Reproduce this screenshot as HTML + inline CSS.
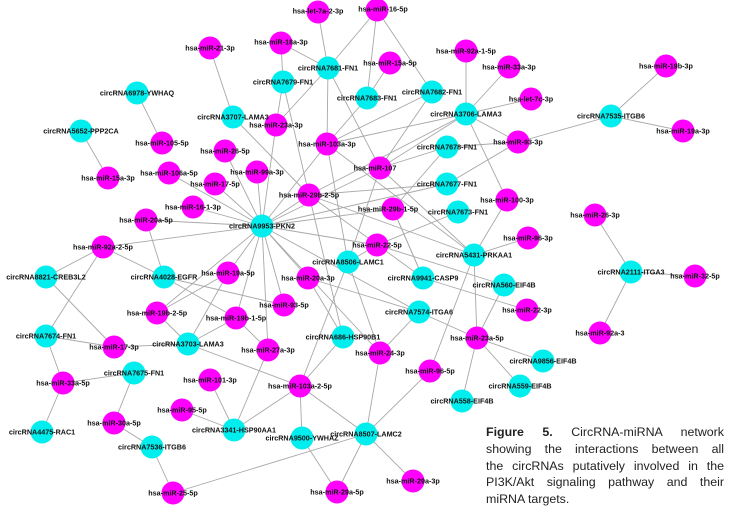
<!DOCTYPE html>
<html><head><meta charset="utf-8"><style>
html,body{margin:0;padding:0;background:#fff;}
svg{display:block;}
text{font-family:"Liberation Sans",Arial,sans-serif;font-size:7.2px;font-weight:bold;fill:#111;text-anchor:middle;dominant-baseline:central;}
.cap{position:absolute;left:486px;top:424px;width:238px;font-family:"Liberation Sans",Arial,sans-serif;font-size:12.4px;line-height:16.8px;color:#222;}
.cap div{text-align:justify;text-align-last:justify;white-space:nowrap;}
.cap div.l{text-align-last:left;}
</style></head><body>
<div style="position:relative;width:753px;height:526px;overflow:hidden">
<svg width="753" height="526" viewBox="0 0 753 526">
<g stroke="#a8a8a8" stroke-width="0.9">
<line x1="262" y1="226" x2="225" y2="151"/><line x1="262" y1="226" x2="257" y2="172"/><line x1="262" y1="226" x2="215" y2="184"/>
<line x1="262" y1="226" x2="169" y2="173"/><line x1="262" y1="226" x2="193" y2="207"/><line x1="262" y1="226" x2="146" y2="220"/>
<line x1="262" y1="226" x2="103" y2="247"/><line x1="262" y1="226" x2="309" y2="195"/><line x1="262" y1="226" x2="276" y2="125"/>
<line x1="262" y1="226" x2="327" y2="144"/><line x1="262" y1="226" x2="393" y2="209"/><line x1="262" y1="226" x2="377" y2="245"/>
<line x1="262" y1="226" x2="228" y2="273"/><line x1="262" y1="226" x2="308" y2="278"/><line x1="262" y1="226" x2="284" y2="305"/>
<line x1="262" y1="226" x2="236" y2="318"/><line x1="262" y1="226" x2="268" y2="350"/><line x1="262" y1="226" x2="157" y2="313"/>
<line x1="262" y1="226" x2="380" y2="168"/><line x1="262" y1="226" x2="380" y2="353"/><line x1="262" y1="226" x2="447" y2="184"/>
<line x1="103" y1="247" x2="46" y2="277"/><line x1="103" y1="247" x2="164" y2="277"/><line x1="103" y1="247" x2="46" y2="336"/>
<line x1="46" y1="277" x2="114" y2="347"/><line x1="146" y1="220" x2="164" y2="277"/>
<line x1="164" y1="277" x2="284" y2="305"/><line x1="164" y1="277" x2="236" y2="318"/>
<line x1="188" y1="344" x2="157" y2="313"/><line x1="188" y1="344" x2="228" y2="273"/><line x1="188" y1="344" x2="236" y2="318"/>
<line x1="188" y1="344" x2="114" y2="347"/><line x1="188" y1="344" x2="300" y2="386"/><line x1="157" y1="313" x2="228" y2="273"/>
<line x1="236" y1="318" x2="268" y2="350"/>
<line x1="46" y1="336" x2="114" y2="347"/><line x1="46" y1="336" x2="63" y2="383"/>
<line x1="63" y1="383" x2="134" y2="373"/><line x1="63" y1="383" x2="42" y2="432"/>
<line x1="134" y1="373" x2="114" y2="423"/><line x1="114" y1="423" x2="152" y2="447"/><line x1="152" y1="447" x2="173" y2="493"/>
<line x1="173" y1="493" x2="366" y2="434"/>
<line x1="210" y1="380" x2="234" y2="430"/><line x1="182" y1="410" x2="234" y2="430"/><line x1="234" y1="430" x2="268" y2="350"/>
<line x1="234" y1="430" x2="300" y2="386"/>
<line x1="300" y1="386" x2="343" y2="337"/><line x1="300" y1="386" x2="302" y2="438"/><line x1="300" y1="386" x2="366" y2="434"/>
<line x1="300" y1="386" x2="348" y2="262"/>
<line x1="302" y1="438" x2="337" y2="492"/><line x1="366" y1="434" x2="337" y2="492"/><line x1="366" y1="434" x2="413" y2="481"/>
<line x1="366" y1="434" x2="430" y2="371"/><line x1="366" y1="434" x2="380" y2="353"/>
<line x1="343" y1="337" x2="309" y2="195"/><line x1="343" y1="337" x2="308" y2="278"/>
<line x1="380" y1="353" x2="419" y2="312"/><line x1="380" y1="353" x2="348" y2="262"/>
<line x1="419" y1="312" x2="477" y2="338"/><line x1="419" y1="312" x2="308" y2="278"/><line x1="419" y1="312" x2="262" y2="226"/>
<line x1="477" y1="338" x2="504" y2="285"/><line x1="477" y1="338" x2="543" y2="361"/><line x1="477" y1="338" x2="520" y2="386"/>
<line x1="477" y1="338" x2="462" y2="401"/><line x1="477" y1="338" x2="474" y2="255"/>
<line x1="474" y1="255" x2="507" y2="200"/><line x1="474" y1="255" x2="528" y2="238"/><line x1="474" y1="255" x2="430" y2="371"/>
<line x1="474" y1="255" x2="380" y2="168"/><line x1="474" y1="255" x2="327" y2="144"/><line x1="474" y1="255" x2="309" y2="195"/>
<line x1="423" y1="278" x2="393" y2="209"/><line x1="423" y1="278" x2="527" y2="310"/><line x1="423" y1="278" x2="309" y2="195"/>
<line x1="504" y1="285" x2="377" y2="245"/><line x1="377" y1="245" x2="458" y2="212"/><line x1="377" y1="245" x2="348" y2="262"/>
<line x1="631" y1="272" x2="595" y2="215"/><line x1="631" y1="272" x2="695" y2="276"/><line x1="631" y1="272" x2="600" y2="333"/>
<line x1="611" y1="116" x2="666" y2="66"/><line x1="611" y1="116" x2="683" y2="131"/><line x1="611" y1="116" x2="518" y2="142"/>
<line x1="518" y1="142" x2="466" y2="114"/><line x1="518" y1="142" x2="447" y2="147"/><line x1="518" y1="142" x2="447" y2="184"/>
<line x1="466" y1="114" x2="466" y2="51"/><line x1="466" y1="114" x2="509" y2="67"/><line x1="466" y1="114" x2="531" y2="99"/>
<line x1="466" y1="114" x2="380" y2="168"/><line x1="466" y1="114" x2="507" y2="200"/><line x1="466" y1="114" x2="327" y2="144"/>
<line x1="466" y1="114" x2="309" y2="195"/>
<line x1="432" y1="92" x2="377" y2="10"/><line x1="432" y1="92" x2="380" y2="168"/><line x1="432" y1="92" x2="327" y2="144"/>
<line x1="367" y1="98" x2="390" y2="63"/><line x1="367" y1="98" x2="327" y2="144"/><line x1="367" y1="98" x2="377" y2="10"/>
<line x1="328" y1="68" x2="318" y2="12"/><line x1="328" y1="68" x2="377" y2="10"/><line x1="328" y1="68" x2="281" y2="43"/>
<line x1="328" y1="68" x2="327" y2="144"/><line x1="328" y1="68" x2="276" y2="125"/><line x1="328" y1="68" x2="380" y2="168"/>
<line x1="283" y1="82" x2="281" y2="43"/><line x1="283" y1="82" x2="276" y2="125"/><line x1="283" y1="82" x2="309" y2="195"/>
<line x1="233" y1="117" x2="210" y2="48"/><line x1="233" y1="117" x2="309" y2="195"/>
<line x1="162" y1="143" x2="137" y2="93"/><line x1="108" y1="178" x2="81" y2="131"/>
<line x1="447" y1="147" x2="380" y2="168"/><line x1="447" y1="147" x2="393" y2="209"/><line x1="447" y1="184" x2="309" y2="195"/>
<line x1="380" y1="168" x2="348" y2="262"/><line x1="327" y1="144" x2="348" y2="262"/><line x1="393" y1="209" x2="423" y2="278"/>
</g>
<g fill="#ff00ff">
<circle cx="318" cy="12" r="11.5"/><circle cx="377" cy="10" r="11.5"/><circle cx="281" cy="43" r="11.5"/><circle cx="210" cy="48" r="11.5"/>
<circle cx="390" cy="63" r="11.5"/><circle cx="276" cy="125" r="11.5"/><circle cx="162" cy="143" r="11.5"/><circle cx="327" cy="144" r="11.5"/>
<circle cx="225" cy="151" r="11.5"/><circle cx="108" cy="178" r="11.5"/><circle cx="169" cy="173" r="11.5"/><circle cx="257" cy="172" r="11.5"/>
<circle cx="215" cy="184" r="11.5"/><circle cx="309" cy="195" r="11.5"/><circle cx="193" cy="207" r="11.5"/><circle cx="146" cy="220" r="11.5"/>
<circle cx="103" cy="247" r="11.5"/><circle cx="380" cy="168" r="11.5"/><circle cx="466" cy="51" r="11.5"/><circle cx="509" cy="67" r="11.5"/>
<circle cx="531" cy="99" r="11.5"/><circle cx="666" cy="66" r="11.5"/><circle cx="683" cy="131" r="11.5"/><circle cx="518" cy="142" r="11.5"/>
<circle cx="507" cy="200" r="11.5"/><circle cx="393" cy="209" r="11.5"/><circle cx="595" cy="215" r="11.5"/><circle cx="528" cy="238" r="11.5"/>
<circle cx="377" cy="245" r="11.5"/><circle cx="228" cy="273" r="11.5"/><circle cx="308" cy="278" r="11.5"/><circle cx="284" cy="305" r="11.5"/>
<circle cx="157" cy="313" r="11.5"/><circle cx="236" cy="318" r="11.5"/><circle cx="114" cy="347" r="11.5"/><circle cx="268" cy="350" r="11.5"/>
<circle cx="380" cy="353" r="11.5"/><circle cx="63" cy="383" r="11.5"/><circle cx="210" cy="380" r="11.5"/><circle cx="300" cy="386" r="11.5"/>
<circle cx="182" cy="410" r="11.5"/><circle cx="114" cy="423" r="11.5"/><circle cx="173" cy="493" r="11.5"/><circle cx="337" cy="492" r="11.5"/>
<circle cx="695" cy="276" r="11.5"/><circle cx="527" cy="310" r="11.5"/><circle cx="477" cy="338" r="11.5"/><circle cx="600" cy="333" r="11.5"/>
<circle cx="430" cy="371" r="11.5"/><circle cx="413" cy="481" r="11.5"/>
</g>
<g fill="#00eeee">
<circle cx="328" cy="68" r="11.5"/><circle cx="283" cy="82" r="11.5"/><circle cx="367" cy="98" r="11.5"/><circle cx="137" cy="93" r="11.5"/>
<circle cx="81" cy="131" r="11.5"/><circle cx="233" cy="117" r="11.5"/><circle cx="262" cy="226" r="11.5"/><circle cx="432" cy="92" r="11.5"/>
<circle cx="466" cy="114" r="11.5"/><circle cx="611" cy="116" r="11.5"/><circle cx="447" cy="147" r="11.5"/><circle cx="447" cy="184" r="11.5"/>
<circle cx="458" cy="212" r="11.5"/><circle cx="474" cy="255" r="11.5"/><circle cx="46" cy="277" r="11.5"/><circle cx="164" cy="277" r="11.5"/>
<circle cx="348" cy="262" r="11.5"/><circle cx="46" cy="336" r="11.5"/><circle cx="188" cy="344" r="11.5"/><circle cx="343" cy="337" r="11.5"/>
<circle cx="134" cy="373" r="11.5"/><circle cx="234" cy="430" r="11.5"/><circle cx="42" cy="432" r="11.5"/><circle cx="302" cy="438" r="11.5"/>
<circle cx="366" cy="434" r="11.5"/><circle cx="152" cy="447" r="11.5"/><circle cx="423" cy="278" r="11.5"/><circle cx="504" cy="285" r="11.5"/>
<circle cx="631" cy="272" r="11.5"/><circle cx="419" cy="312" r="11.5"/><circle cx="543" cy="361" r="11.5"/><circle cx="520" cy="386" r="11.5"/>
<circle cx="462" cy="401" r="11.5"/>
</g>
<g>
<text x="318" y="11">hsa-let-7a-2-3p</text><text x="383" y="9">hsa-miR-16-5p</text><text x="281" y="42">hsa-miR-18a-3p</text><text x="210" y="48">hsa-miR-21-3p</text>
<text x="390" y="63">hsa-miR-15a-5p</text><text x="276" y="125">hsa-miR-23a-3p</text><text x="162" y="143">hsa-miR-105-5p</text><text x="327" y="144">hsa-miR-103a-3p</text>
<text x="225" y="151">hsa-miR-26-5p</text><text x="108" y="178">hsa-miR-15a-3p</text><text x="169" y="173">hsa-miR-106a-5p</text><text x="257" y="172">hsa-miR-99a-3p</text>
<text x="215" y="184">hsa-miR-17-5p</text><text x="309" y="195">hsa-miR-29b-2-5p</text><text x="193" y="207">hsa-miR-16-1-3p</text><text x="146" y="220">hsa-miR-20a-5p</text>
<text x="103" y="247">hsa-miR-92a-2-5p</text><text x="375" y="168">hsa-miR-107</text><text x="466" y="51">hsa-miR-92a-1-5p</text><text x="509" y="67">hsa-miR-33a-3p</text>
<text x="531" y="99">hsa-let-7c-3p</text><text x="666" y="66">hsa-miR-19b-3p</text><text x="683" y="131">hsa-miR-19a-3p</text><text x="518" y="142">hsa-miR-93-3p</text>
<text x="507" y="200">hsa-miR-100-3p</text><text x="388" y="209">hsa-miR-29b-1-5p</text><text x="595" y="215">hsa-miR-26-3p</text><text x="528" y="238">hsa-miR-96-3p</text>
<text x="377" y="245">hsa-miR-22-5p</text><text x="228" y="273">hsa-miR-19a-5p</text><text x="308" y="278">hsa-miR-20a-3p</text><text x="284" y="305">hsa-miR-93-5p</text>
<text x="157" y="313">hsa-miR-19b-2-5p</text><text x="236" y="318">hsa-miR-19b-1-5p</text><text x="114" y="347">hsa-miR-17-3p</text><text x="268" y="350">hsa-miR-27a-3p</text>
<text x="380" y="353">hsa-miR-24-3p</text><text x="63" y="383">hsa-miR-33a-5p</text><text x="210" y="380">hsa-miR-101-3p</text><text x="300" y="386">hsa-miR-103a-2-5p</text>
<text x="182" y="410">hsa-miR-95-5p</text><text x="114" y="423">hsa-miR-30a-5p</text><text x="173" y="493">hsa-miR-25-5p</text><text x="337" y="492">hsa-miR-29a-5p</text>
<text x="695" y="276">hsa-miR-32-5p</text><text x="527" y="310">hsa-miR-22-3p</text><text x="477" y="338">hsa-miR-23a-5p</text><text x="600" y="333">hsa-miR-92a-3</text>
<text x="430" y="371">hsa-miR-96-5p</text><text x="413" y="481">hsa-miR-29a-3p</text>
<text x="328" y="68">circRNA7681-FN1</text><text x="283" y="82">circRNA7679-FN1</text><text x="367" y="98">circRNA7683-FN1</text><text x="137" y="93">circRNA6978-YWHAQ</text>
<text x="81" y="131">circRNA5652-PPP2CA</text><text x="233" y="117">circRNA3707-LAMA3</text><text x="262" y="226">circRNA9953-PKN2</text><text x="432" y="92">circRNA7682-FN1</text>
<text x="466" y="114">circRNA3706-LAMA3</text><text x="611" y="116">circRNA7535-ITGB6</text><text x="447" y="147">circRNA7678-FN1</text><text x="447" y="184">circRNA7677-FN1</text>
<text x="458" y="212">circRNA7673-FN1</text><text x="474" y="255">circRNA5431-PRKAA1</text><text x="46" y="277">circRNA8821-CREB3L2</text><text x="164" y="277">circRNA4028-EGFR</text>
<text x="348" y="262">circRNA8506-LAMC1</text><text x="46" y="336">circRNA7674-FN1</text><text x="188" y="344">circRNA3703-LAMA3</text><text x="343" y="337">circRNA686-HSP90B1</text>
<text x="134" y="373">circRNA7675-FN1</text><text x="234" y="430">circRNA3341-HSP90AA1</text><text x="42" y="432">circRNA4475-RAC1</text><text x="302" y="438">circRNA9500-YWHAZ</text>
<text x="366" y="434">circRNA8507-LAMC2</text><text x="152" y="447">circRNA7536-ITGB6</text><text x="423" y="278">circRNA9941-CASP9</text><text x="504" y="285">circRNA560-EIF4B</text>
<text x="631" y="272">circRNA2111-ITGA3</text><text x="419" y="312">circRNA7574-ITGA6</text><text x="543" y="361">circRNA9856-EIF4B</text><text x="520" y="386">circRNA559-EIF4B</text>
<text x="462" y="401">circRNA558-EIF4B</text>
</g>
</svg>
<div class="cap">
<div><b>Figure 5.</b> CircRNA-miRNA network</div>
<div>showing the interactions between all</div>
<div>the circRNAs putatively involved in the</div>
<div>PI3K/Akt signaling pathway and their</div>
<div class="l">miRNA targets.</div>
</div>
</div>
</body></html>
